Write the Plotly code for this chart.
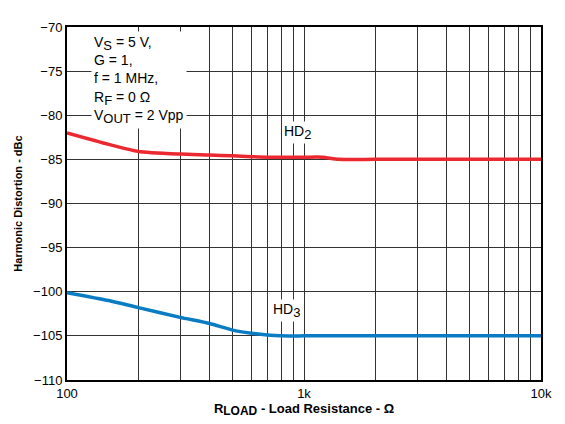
import plotly.graph_objects as go

# R_LOAD (ohm) sample points
r_load = [100, 150, 200, 300, 400, 500, 600, 700, 800, 1000, 1200, 1400, 2000, 5000, 10000]
hd2 = [-82.0, -83.3, -84.1, -84.4, -84.5, -84.6, -84.7, -84.75, -84.75, -84.75, -84.75, -85.0, -85.0, -85.0, -85.0]
hd3 = [-100.1, -101.0, -101.8, -102.9, -103.6, -104.35, -104.7, -104.9, -105.0, -105.0, -105.0, -105.0, -105.0, -105.0, -105.0]

x_grid = [100, 200, 300, 400, 500, 600, 700, 800, 900,
          1000, 2000, 3000, 4000, 5000, 6000, 7000, 8000, 9000, 10000]
x_labels = {100: "100", 1000: "1k", 10000: "10k"}
y_ticks = [-110, -105, -100, -95, -90, -85, -80, -75, -70]

FONT = "Liberation Sans, Arial, sans-serif"


def sub(txt, size):
    # the reference sets subscripts nearly full size, plotly shrinks <sub> to 70%
    return f"<sub><span style='font-size:{size}px'>{txt}</span></sub>"


fig = go.Figure()
fig.add_trace(go.Scatter(x=r_load, y=hd2, mode="lines", name="HD2",
                         line=dict(color="#ec2830", width=3.5, shape="spline", smoothing=0.6)))
fig.add_trace(go.Scatter(x=r_load, y=hd3, mode="lines", name="HD3",
                         line=dict(color="#0a7cc4", width=3.5, shape="spline", smoothing=0.6)))

fig.update_xaxes(
    type="log", range=[2, 4], automargin=False,
    tickvals=x_grid, ticktext=[x_labels.get(v, "") for v in x_grid],
    showgrid=True, gridcolor="#333", gridwidth=1,
    showline=True, linecolor="black", linewidth=2, mirror=True,
    ticks="", tickfont=dict(size=13, color="black"),
    title=dict(text=f"<b>R{sub('LOAD', 12)} - Load Resistance - Ω</b>",
               font=dict(size=13, color="black"), standoff=4),
    zeroline=False,
)
fig.update_yaxes(
    range=[-110, -70], tickvals=y_ticks, automargin=False,
    showgrid=True, gridcolor="#333", gridwidth=1,
    showline=True, linecolor="black", linewidth=2, mirror=True,
    ticks="", tickfont=dict(size=13, color="black"),
    title=dict(text="<b>Harmonic Distortion - dBc</b>",
               font=dict(size=11, color="black"), standoff=8),
    zeroline=False,
)

fig.add_annotation(
    xref="paper", yref="paper", x=0.051, y=0.99, xanchor="left", yanchor="top",
    text=(f"V{sub('S', 13)} = 5 V,<br>G = 1,<br>f = 1 MHz,<br>"
          f"R{sub('F', 13)} = 0 Ω<br>V{sub('OUT', 13)} = 2 Vpp"),
    align="left", showarrow=False, bgcolor="white", borderpad=2,
    font=dict(size=14, color="black", family=FONT),
)
fig.add_annotation(x=2.974, y=-82.0, xref="x", yref="y", text=f"HD{sub('2', 13)}",
                   showarrow=False, bgcolor="white", borderpad=1,
                   font=dict(size=14, color="black", family=FONT))
fig.add_annotation(x=2.928, y=-102.15, xref="x", yref="y", text=f"HD{sub('3', 13)}",
                   showarrow=False, bgcolor="white", borderpad=1,
                   font=dict(size=14, color="black", family=FONT))

# rule across the top of the page
fig.add_shape(type="line", xref="paper", yref="paper", x0=-0.2, x1=1.1,
              y0=1.066, y1=1.066, line=dict(color="black", width=2))

# the page puts the figure 8 px in from the top-left corner, so margins make up for it
fig.update_layout(
    width=565, height=424,
    margin=dict(l=59, r=32, t=19, b=52),
    paper_bgcolor="white", plot_bgcolor="white",
    showlegend=False,
    font=dict(family=FONT, color="black"),
)

fig.write_html("out.html")
